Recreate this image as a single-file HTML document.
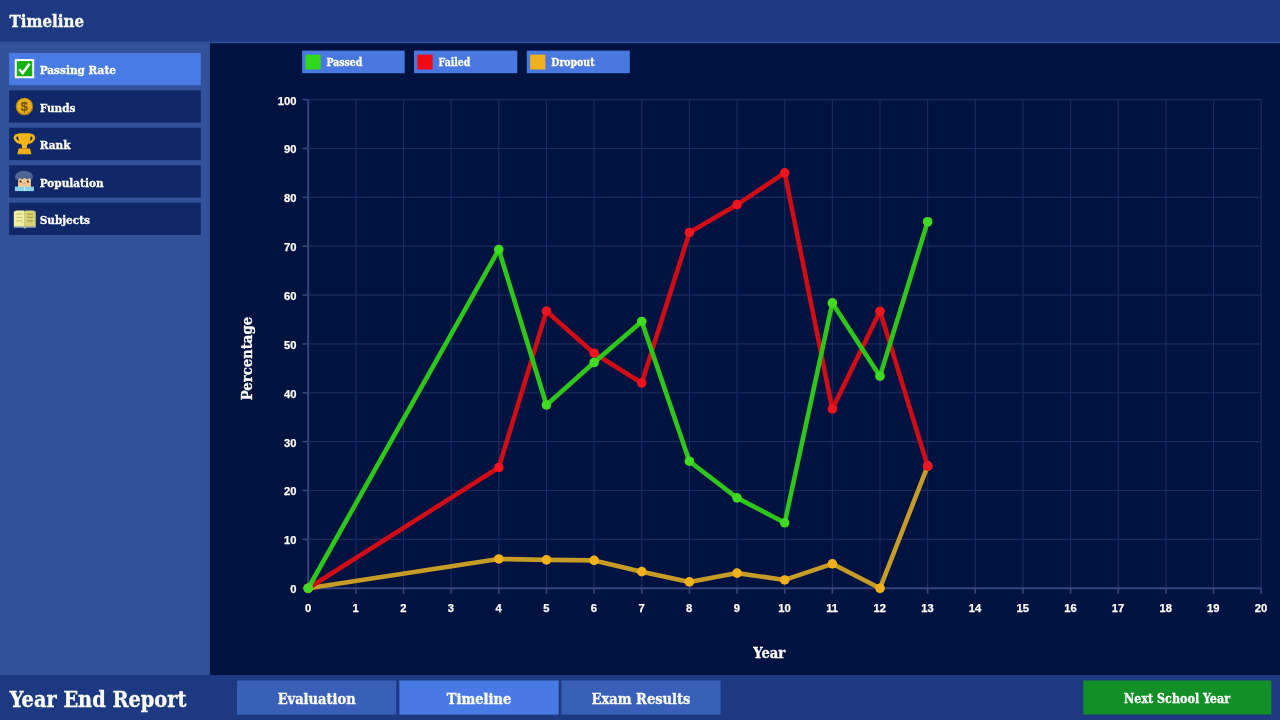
<!DOCTYPE html>
<html lang="en">
<head>
<meta charset="utf-8">
<title>Year End Report - Timeline</title>
<style>
*{margin:0;padding:0}
html,body{width:1280px;height:720px;overflow:hidden;background:#001240}
svg{display:block;position:absolute;left:0;top:0}
.s{font-family:"DejaVu Serif Condensed","DejaVu Serif","Liberation Serif",serif;font-stretch:condensed;font-weight:bold;fill:#fff;stroke:#fff;stroke-width:0.3px}
.tk{font-family:"Liberation Sans",sans-serif;font-weight:bold;font-size:11.2px;fill:#fff;stroke:#fff;stroke-width:0.25px}
</style>
</head>
<body>
<svg width="1280" height="720" viewBox="0 0 1280 720">
<rect x="0.00" y="0.00" width="1280.00" height="720.00" fill="#31519b"/>
<rect x="0.00" y="0.00" width="1280.00" height="41.60" fill="#1c3981"/>
<rect x="209.90" y="43.20" width="1070.10" height="632.30" fill="#001240"/>
<rect x="0.00" y="675.00" width="1280.00" height="45.00" fill="#1c3981"/>
<rect x="9.10" y="52.90" width="191.70" height="32.30" fill="#497be4"/>
<g transform="translate(9.30,53.05)"><rect x="6.5" y="7" width="17.4" height="17.2" fill="#14b014" stroke="#fff" stroke-width="2"/><path d="M10 16.2 L13.4 20 L20.2 10.6" fill="none" stroke="#fff" stroke-width="2.6"/></g>
<text x="39.7" y="74.20" class="s" font-size="11.7">Passing Rate</text>
<rect x="9.10" y="90.35" width="191.70" height="32.30" fill="#102868"/>
<g transform="translate(9.30,90.50)"><circle cx="15.1" cy="16" r="8.7" fill="#b58512"/><circle cx="15.1" cy="15.6" r="7.6" fill="#e6b01c"/><text x="15.1" y="20.6" text-anchor="middle" font-family="Liberation Sans,sans-serif" font-weight="bold" font-size="13" fill="#7a560c" stroke="#7a560c" stroke-width="0.3">$</text></g>
<text x="39.7" y="111.65" class="s" font-size="11.7">Funds</text>
<rect x="9.10" y="127.80" width="191.70" height="32.30" fill="#102868"/>
<g transform="translate(9.30,127.95)"><path d="M9.4 7.6 C6.6 6.4 4.8 9 6.2 11.6 C7.2 13.4 9.2 14.4 11 14.8 M20.8 7.6 C23.6 6.4 25.4 9 24 11.6 C23 13.4 21 14.4 19.2 14.8" fill="none" stroke="#f2b314" stroke-width="2.6"/><path d="M8.8 5.4 H21.4 C21.6 11.6 20.2 15.2 17.6 17.2 V20.6 H12.6 V17.2 C10 15.2 8.6 11.6 8.8 5.4 Z" fill="#f6b512"/><path d="M9.4 20.6 H20.8 L22.2 26.4 H8 Z" fill="#f0ae10"/></g>
<text x="39.7" y="149.10" class="s" font-size="11.7">Rank</text>
<rect x="9.10" y="165.25" width="191.70" height="32.30" fill="#102868"/>
<g transform="translate(9.30,165.40)"><rect x="8.8" y="11.4" width="12.8" height="10.4" fill="#f8c88c"/><path d="M5.9 13.6 C4.8 8 9.6 5.4 15 5.6 C20.6 5.4 24.8 8.2 23.4 13.6 L21.6 14.6 L20.4 12.6 L18 14 L15.4 12.6 L12.6 14 L10.4 12.6 L8.8 14.8 Z" fill="#4c6694"/><circle cx="11.4" cy="16" r="1.2" fill="#4a3420"/><circle cx="18.8" cy="16" r="1.2" fill="#4a3420"/><circle cx="13" cy="15.4" r="0.9" fill="#fff3e0"/><circle cx="20.2" cy="15.4" r="0.9" fill="#fff3e0"/><ellipse cx="15.1" cy="18" rx="1.4" ry="1.1" fill="#f09a90"/><rect x="5.6" y="21.2" width="19" height="4.5" fill="#8ad2ea"/><rect x="14.6" y="21.6" width="1" height="4" fill="#c8f4ff"/></g>
<text x="39.7" y="186.55" class="s" font-size="11.7">Population</text>
<rect x="9.10" y="202.70" width="191.70" height="32.30" fill="#102868"/>
<g transform="translate(9.30,202.85)"><path d="M4.5 8.8 L7 7.6 H14.6 L15.5 8.4 V24.6 L14.6 23.6 H4.5 Z" fill="#f2efa0"/><path d="M26.4 8.8 L24 7.6 H16.4 L15.5 8.4 V24.6 L16.4 23.6 H26.4 Z" fill="#d9d272"/><path d="M4.5 23.6 H14.6 L15.5 24.9 L16.4 23.6 H26.4 V24.7 H17 L15.5 25.8 L14 24.7 H4.5 Z" fill="#c8e8d0"/><g stroke="#c9c36a" stroke-width="1.1"><path d="M7 11.2 H13.2 M7 14.6 H13.2 M7 18 H13.2"/></g><g stroke="#a8a048" stroke-width="1.3"><path d="M17.8 11.2 H23.8 M17.8 14.6 H23.8 M17.8 18 H23.8"/></g></g>
<text x="39.7" y="224.00" class="s" font-size="11.7">Subjects</text>
<text x="9.6" y="27.25" class="s" font-size="16.75">Timeline</text>
<line x1="308.2" y1="99.6" x2="308.2" y2="588.25" stroke="#34447e" stroke-width="2"/>
<line x1="308.2" y1="588.25" x2="308.2" y2="593.85" stroke="#34447e" stroke-width="1.6"/>
<line x1="355.85" y1="99.6" x2="355.85" y2="588.25" stroke="#1b2b5f" stroke-width="1.15"/>
<line x1="355.85" y1="588.25" x2="355.85" y2="593.85" stroke="#34447e" stroke-width="1.6"/>
<line x1="403.5" y1="99.6" x2="403.5" y2="588.25" stroke="#1b2b5f" stroke-width="1.15"/>
<line x1="403.5" y1="588.25" x2="403.5" y2="593.85" stroke="#34447e" stroke-width="1.6"/>
<line x1="451.15" y1="99.6" x2="451.15" y2="588.25" stroke="#1b2b5f" stroke-width="1.15"/>
<line x1="451.15" y1="588.25" x2="451.15" y2="593.85" stroke="#34447e" stroke-width="1.6"/>
<line x1="498.8" y1="99.6" x2="498.8" y2="588.25" stroke="#1b2b5f" stroke-width="1.15"/>
<line x1="498.8" y1="588.25" x2="498.8" y2="593.85" stroke="#34447e" stroke-width="1.6"/>
<line x1="546.45" y1="99.6" x2="546.45" y2="588.25" stroke="#1b2b5f" stroke-width="1.15"/>
<line x1="546.45" y1="588.25" x2="546.45" y2="593.85" stroke="#34447e" stroke-width="1.6"/>
<line x1="594.1" y1="99.6" x2="594.1" y2="588.25" stroke="#1b2b5f" stroke-width="1.15"/>
<line x1="594.1" y1="588.25" x2="594.1" y2="593.85" stroke="#34447e" stroke-width="1.6"/>
<line x1="641.75" y1="99.6" x2="641.75" y2="588.25" stroke="#1b2b5f" stroke-width="1.15"/>
<line x1="641.75" y1="588.25" x2="641.75" y2="593.85" stroke="#34447e" stroke-width="1.6"/>
<line x1="689.4" y1="99.6" x2="689.4" y2="588.25" stroke="#1b2b5f" stroke-width="1.15"/>
<line x1="689.4" y1="588.25" x2="689.4" y2="593.85" stroke="#34447e" stroke-width="1.6"/>
<line x1="737.05" y1="99.6" x2="737.05" y2="588.25" stroke="#1b2b5f" stroke-width="1.15"/>
<line x1="737.05" y1="588.25" x2="737.05" y2="593.85" stroke="#34447e" stroke-width="1.6"/>
<line x1="784.7" y1="99.6" x2="784.7" y2="588.25" stroke="#1b2b5f" stroke-width="1.15"/>
<line x1="784.7" y1="588.25" x2="784.7" y2="593.85" stroke="#34447e" stroke-width="1.6"/>
<line x1="832.35" y1="99.6" x2="832.35" y2="588.25" stroke="#1b2b5f" stroke-width="1.15"/>
<line x1="832.35" y1="588.25" x2="832.35" y2="593.85" stroke="#34447e" stroke-width="1.6"/>
<line x1="880.0" y1="99.6" x2="880.0" y2="588.25" stroke="#1b2b5f" stroke-width="1.15"/>
<line x1="880.0" y1="588.25" x2="880.0" y2="593.85" stroke="#34447e" stroke-width="1.6"/>
<line x1="927.65" y1="99.6" x2="927.65" y2="588.25" stroke="#1b2b5f" stroke-width="1.15"/>
<line x1="927.65" y1="588.25" x2="927.65" y2="593.85" stroke="#34447e" stroke-width="1.6"/>
<line x1="975.3" y1="99.6" x2="975.3" y2="588.25" stroke="#1b2b5f" stroke-width="1.15"/>
<line x1="975.3" y1="588.25" x2="975.3" y2="593.85" stroke="#34447e" stroke-width="1.6"/>
<line x1="1022.95" y1="99.6" x2="1022.95" y2="588.25" stroke="#1b2b5f" stroke-width="1.15"/>
<line x1="1022.95" y1="588.25" x2="1022.95" y2="593.85" stroke="#34447e" stroke-width="1.6"/>
<line x1="1070.6" y1="99.6" x2="1070.6" y2="588.25" stroke="#1b2b5f" stroke-width="1.15"/>
<line x1="1070.6" y1="588.25" x2="1070.6" y2="593.85" stroke="#34447e" stroke-width="1.6"/>
<line x1="1118.25" y1="99.6" x2="1118.25" y2="588.25" stroke="#1b2b5f" stroke-width="1.15"/>
<line x1="1118.25" y1="588.25" x2="1118.25" y2="593.85" stroke="#34447e" stroke-width="1.6"/>
<line x1="1165.9" y1="99.6" x2="1165.9" y2="588.25" stroke="#1b2b5f" stroke-width="1.15"/>
<line x1="1165.9" y1="588.25" x2="1165.9" y2="593.85" stroke="#34447e" stroke-width="1.6"/>
<line x1="1213.55" y1="99.6" x2="1213.55" y2="588.25" stroke="#1b2b5f" stroke-width="1.15"/>
<line x1="1213.55" y1="588.25" x2="1213.55" y2="593.85" stroke="#34447e" stroke-width="1.6"/>
<line x1="1261.2" y1="99.6" x2="1261.2" y2="588.25" stroke="#1b2b5f" stroke-width="1.15"/>
<line x1="1261.2" y1="588.25" x2="1261.2" y2="593.85" stroke="#34447e" stroke-width="1.6"/>
<line x1="308.2" y1="588.25" x2="1261.2" y2="588.25" stroke="#34447e" stroke-width="2"/>
<line x1="302.4" y1="588.25" x2="308.2" y2="588.25" stroke="#34447e" stroke-width="1.6"/>
<line x1="308.2" y1="539.38" x2="1261.2" y2="539.38" stroke="#1b2b5f" stroke-width="1.15"/>
<line x1="302.4" y1="539.38" x2="308.2" y2="539.38" stroke="#34447e" stroke-width="1.6"/>
<line x1="308.2" y1="490.52" x2="1261.2" y2="490.52" stroke="#1b2b5f" stroke-width="1.15"/>
<line x1="302.4" y1="490.52" x2="308.2" y2="490.52" stroke="#34447e" stroke-width="1.6"/>
<line x1="308.2" y1="441.65" x2="1261.2" y2="441.65" stroke="#1b2b5f" stroke-width="1.15"/>
<line x1="302.4" y1="441.65" x2="308.2" y2="441.65" stroke="#34447e" stroke-width="1.6"/>
<line x1="308.2" y1="392.79" x2="1261.2" y2="392.79" stroke="#1b2b5f" stroke-width="1.15"/>
<line x1="302.4" y1="392.79" x2="308.2" y2="392.79" stroke="#34447e" stroke-width="1.6"/>
<line x1="308.2" y1="343.93" x2="1261.2" y2="343.93" stroke="#1b2b5f" stroke-width="1.15"/>
<line x1="302.4" y1="343.93" x2="308.2" y2="343.93" stroke="#34447e" stroke-width="1.6"/>
<line x1="308.2" y1="295.06" x2="1261.2" y2="295.06" stroke="#1b2b5f" stroke-width="1.15"/>
<line x1="302.4" y1="295.06" x2="308.2" y2="295.06" stroke="#34447e" stroke-width="1.6"/>
<line x1="308.2" y1="246.19" x2="1261.2" y2="246.19" stroke="#1b2b5f" stroke-width="1.15"/>
<line x1="302.4" y1="246.19" x2="308.2" y2="246.19" stroke="#34447e" stroke-width="1.6"/>
<line x1="308.2" y1="197.33" x2="1261.2" y2="197.33" stroke="#1b2b5f" stroke-width="1.15"/>
<line x1="302.4" y1="197.33" x2="308.2" y2="197.33" stroke="#34447e" stroke-width="1.6"/>
<line x1="308.2" y1="148.47" x2="1261.2" y2="148.47" stroke="#1b2b5f" stroke-width="1.15"/>
<line x1="302.4" y1="148.47" x2="308.2" y2="148.47" stroke="#34447e" stroke-width="1.6"/>
<line x1="308.2" y1="99.6" x2="1261.2" y2="99.6" stroke="#1b2b5f" stroke-width="1.15"/>
<line x1="302.4" y1="99.6" x2="308.2" y2="99.6" stroke="#34447e" stroke-width="1.6"/>
<text x="296.4" y="593.15" text-anchor="end" class="tk">0</text>
<text x="296.4" y="544.28" text-anchor="end" class="tk">10</text>
<text x="296.4" y="495.42" text-anchor="end" class="tk">20</text>
<text x="296.4" y="446.55" text-anchor="end" class="tk">30</text>
<text x="296.4" y="397.69" text-anchor="end" class="tk">40</text>
<text x="296.4" y="348.83" text-anchor="end" class="tk">50</text>
<text x="296.4" y="299.96" text-anchor="end" class="tk">60</text>
<text x="296.4" y="251.09" text-anchor="end" class="tk">70</text>
<text x="296.4" y="202.23" text-anchor="end" class="tk">80</text>
<text x="296.4" y="153.37" text-anchor="end" class="tk">90</text>
<text x="296.4" y="104.50" text-anchor="end" class="tk">100</text>
<text x="308.00" y="612.3" text-anchor="middle" class="tk">0</text>
<text x="355.65" y="612.3" text-anchor="middle" class="tk">1</text>
<text x="403.30" y="612.3" text-anchor="middle" class="tk">2</text>
<text x="450.95" y="612.3" text-anchor="middle" class="tk">3</text>
<text x="498.60" y="612.3" text-anchor="middle" class="tk">4</text>
<text x="546.25" y="612.3" text-anchor="middle" class="tk">5</text>
<text x="593.90" y="612.3" text-anchor="middle" class="tk">6</text>
<text x="641.55" y="612.3" text-anchor="middle" class="tk">7</text>
<text x="689.20" y="612.3" text-anchor="middle" class="tk">8</text>
<text x="736.85" y="612.3" text-anchor="middle" class="tk">9</text>
<text x="784.50" y="612.3" text-anchor="middle" class="tk">10</text>
<text x="832.15" y="612.3" text-anchor="middle" class="tk">11</text>
<text x="879.80" y="612.3" text-anchor="middle" class="tk">12</text>
<text x="927.45" y="612.3" text-anchor="middle" class="tk">13</text>
<text x="975.10" y="612.3" text-anchor="middle" class="tk">14</text>
<text x="1022.75" y="612.3" text-anchor="middle" class="tk">15</text>
<text x="1070.40" y="612.3" text-anchor="middle" class="tk">16</text>
<text x="1118.05" y="612.3" text-anchor="middle" class="tk">17</text>
<text x="1165.70" y="612.3" text-anchor="middle" class="tk">18</text>
<text x="1213.35" y="612.3" text-anchor="middle" class="tk">19</text>
<text x="1261.00" y="612.3" text-anchor="middle" class="tk">20</text>
<polyline points="308.2,588.25 498.8,558.93 546.45,559.91 594.1,560.4 641.75,571.64 689.4,581.9 737.05,573.1 784.7,579.94 832.35,563.82 880.0,588.25 927.65,466.09" fill="none" stroke="#c69c26" stroke-width="4.6" stroke-linejoin="round" stroke-linecap="round"/>
<circle cx="308.2" cy="588.25" r="4.8" fill="#f2b01e"/><circle cx="498.8" cy="558.93" r="4.8" fill="#f2b01e"/><circle cx="546.45" cy="559.91" r="4.8" fill="#f2b01e"/><circle cx="594.1" cy="560.4" r="4.8" fill="#f2b01e"/><circle cx="641.75" cy="571.64" r="4.8" fill="#f2b01e"/><circle cx="689.4" cy="581.9" r="4.8" fill="#f2b01e"/><circle cx="737.05" cy="573.1" r="4.8" fill="#f2b01e"/><circle cx="784.7" cy="579.94" r="4.8" fill="#f2b01e"/><circle cx="832.35" cy="563.82" r="4.8" fill="#f2b01e"/><circle cx="880.0" cy="588.25" r="4.8" fill="#f2b01e"/><circle cx="927.65" cy="466.09" r="4.8" fill="#f2b01e"/>
<polyline points="308.2,588.25 498.8,467.55 546.45,311.19 594.1,353.21 641.75,383.02 689.4,232.51 737.05,204.66 784.7,172.9 832.35,408.92 880.0,311.19 927.65,466.09" fill="none" stroke="#d00c14" stroke-width="4.6" stroke-linejoin="round" stroke-linecap="round"/>
<circle cx="308.2" cy="588.25" r="4.8" fill="#f0141e"/><circle cx="498.8" cy="467.55" r="4.8" fill="#f0141e"/><circle cx="546.45" cy="311.19" r="4.8" fill="#f0141e"/><circle cx="594.1" cy="353.21" r="4.8" fill="#f0141e"/><circle cx="641.75" cy="383.02" r="4.8" fill="#f0141e"/><circle cx="689.4" cy="232.51" r="4.8" fill="#f0141e"/><circle cx="737.05" cy="204.66" r="4.8" fill="#f0141e"/><circle cx="784.7" cy="172.9" r="4.8" fill="#f0141e"/><circle cx="832.35" cy="408.92" r="4.8" fill="#f0141e"/><circle cx="880.0" cy="311.19" r="4.8" fill="#f0141e"/><circle cx="927.65" cy="466.09" r="4.8" fill="#f0141e"/>
<polyline points="308.2,588.25 498.8,249.62 546.45,405.01 594.1,362.49 641.75,321.45 689.4,461.2 737.05,497.85 784.7,522.77 832.35,302.88 880.0,376.18 927.65,221.76" fill="none" stroke="#2fc61a" stroke-width="4.6" stroke-linejoin="round" stroke-linecap="round"/>
<circle cx="308.2" cy="588.25" r="4.8" fill="#3fdc22"/><circle cx="498.8" cy="249.62" r="4.8" fill="#3fdc22"/><circle cx="546.45" cy="405.01" r="4.8" fill="#3fdc22"/><circle cx="594.1" cy="362.49" r="4.8" fill="#3fdc22"/><circle cx="641.75" cy="321.45" r="4.8" fill="#3fdc22"/><circle cx="689.4" cy="461.2" r="4.8" fill="#3fdc22"/><circle cx="737.05" cy="497.85" r="4.8" fill="#3fdc22"/><circle cx="784.7" cy="522.77" r="4.8" fill="#3fdc22"/><circle cx="832.35" cy="302.88" r="4.8" fill="#3fdc22"/><circle cx="880.0" cy="376.18" r="4.8" fill="#3fdc22"/><circle cx="927.65" cy="221.76" r="4.8" fill="#3fdc22"/>
<text x="769.3" y="658.2" text-anchor="middle" class="s" font-size="14.7">Year</text>
<text transform="translate(251.6,358.6) rotate(-90)" text-anchor="middle" class="s" font-size="14.7">Percentage</text>
<rect x="302.10" y="50.60" width="102.60" height="22.60" fill="#4878e0"/>
<rect x="305.40" y="54.60" width="15.30" height="14.90" fill="#2fd81a"/>
<text x="326.5" y="65.9" class="s" font-size="10.4">Passed</text>
<rect x="414.00" y="50.60" width="103.30" height="22.60" fill="#4878e0"/>
<rect x="417.30" y="54.60" width="15.30" height="14.90" fill="#f00a14"/>
<text x="438.6" y="65.9" class="s" font-size="10.4">Failed</text>
<rect x="526.80" y="50.60" width="103.00" height="22.60" fill="#4878e0"/>
<rect x="530.10" y="54.60" width="15.30" height="14.90" fill="#f0b020"/>
<text x="551.3" y="65.9" class="s" font-size="10.4">Dropout</text>
<text x="9.7" y="707.2" class="s" font-size="21.5">Year End Report</text>
<rect x="237.00" y="680.50" width="159.30" height="34.10" fill="#3860b8"/>
<text x="316.65" y="703.5" text-anchor="middle" class="s" font-size="14.5">Evaluation</text>
<rect x="399.30" y="680.50" width="159.40" height="34.10" fill="#4979e4"/>
<text x="479.00" y="703.5" text-anchor="middle" class="s" font-size="14.5">Timeline</text>
<rect x="561.30" y="680.50" width="159.30" height="34.10" fill="#3860b8"/>
<text x="640.95" y="703.5" text-anchor="middle" class="s" font-size="14.5">Exam Results</text>
<rect x="1083.30" y="680.50" width="188.00" height="34.00" fill="#129026"/>
<text x="1177.1" y="702.8" text-anchor="middle" class="s" font-size="12.4">Next School Year</text>
</svg>
</body>
</html>
